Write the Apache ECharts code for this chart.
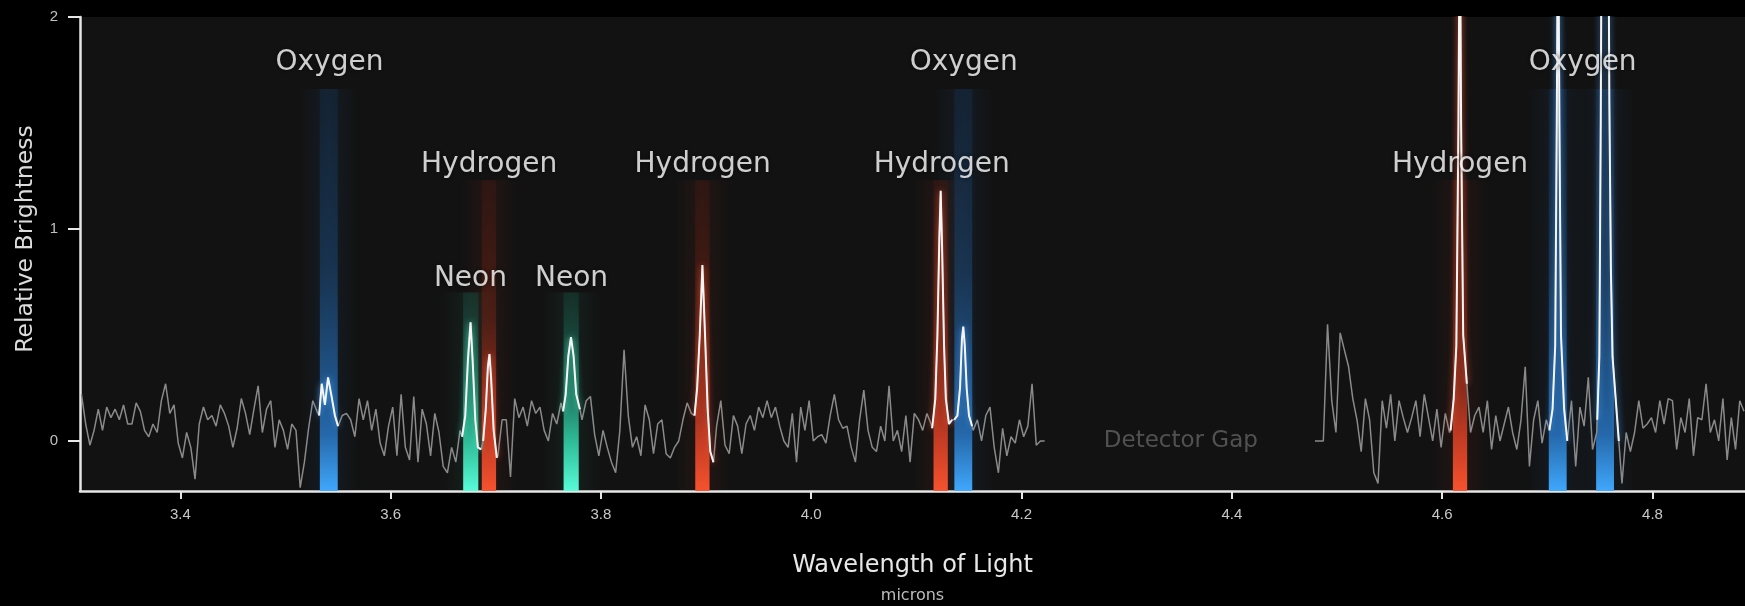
<!DOCTYPE html>
<html>
<head>
<meta charset="utf-8">
<style>
html,body{margin:0;padding:0;background:#000;}
#chart{width:1745px;height:606px;}
</style>
<script src="https://cdn.jsdelivr.net/npm/echarts@6/dist/echarts.min.js"></script>
</head>
<body>
<div id="chart"></div>
<script>
// ---------------- DATA ----------------
const xTicks = [3.4, 3.6, 3.8, 4.0, 4.2, 4.4, 4.6, 4.8];
const yTicks = [0, 1, 2];
const xMin = 3.3046, xMax = 4.888;
const yMin = -0.236, yMax = 2;

// noise spectrum, sampled every 0.004 micron
const sampleStep = 0.004;
const seg1Start = 3.306;
const seg1Values = [
 0.22,0.08,-0.02,0.05,0.15,0.05,0.16,0.11,0.15,0.10,
 0.17,0.08,0.08,0.18,0.14,0.05,0.02,0.08,0.04,0.19,
 0.27,0.13,0.17,-0.01,-0.08,0.04,-0.03,-0.18,0.08,0.16,
 0.10,0.12,0.07,0.17,0.13,0.07,-0.03,0.06,0.20,0.13,
 0.03,0.15,0.26,0.04,0.15,0.19,-0.03,0.10,0.05,-0.04,
 0.08,0.05,-0.22,-0.10,0.06,0.19,0.14,0.27,0.21,0.29,
 0.15,0.06,0.12,0.13,0.10,0.02,0.20,0.10,0.19,0.05,
 0.15,-0.01,-0.07,0.07,0.16,-0.07,0.22,-0.03,-0.09,0.21,
 -0.10,0.15,0.08,-0.07,0.13,0.04,-0.12,-0.15,-0.03,-0.10,
 0.05,0.20,0.50,0.45,0.00,-0.05,0.20,0.40,0.05,-0.07,
 0.10,0.10,-0.17,0.20,0.11,0.16,0.07,0.19,0.13,0.16,
 0.05,0.00,0.13,0.08,0.18,0.25,0.45,0.45,0.20,0.10,
 0.19,0.21,0.03,-0.07,0.05,-0.03,-0.10,-0.15,0.05,0.43,
 0.12,-0.03,0.02,-0.07,0.17,0.10,-0.06,0.08,0.10,-0.06,
 -0.08,-0.03,0.00,0.10,0.18,0.13,0.10,0.60,0.75,0.20,
 -0.05,0.07,0.19,-0.02,-0.06,0.12,0.07,-0.06,0.08,0.12,
 0.05,0.16,0.11,0.19,0.11,0.16,0.07,0.00,-0.03,0.13,
 -0.10,0.16,0.05,0.19,0.00,0.02,0.03,-0.01,0.12,0.22,
 0.10,0.06,0.07,-0.03,-0.10,0.10,0.24,0.05,-0.03,-0.05,
 0.07,0.00,0.26,0.00,0.05,-0.05,0.12,-0.10,0.13,0.10,
 0.05,0.13,0.08,0.30,1.00,0.50,0.10,0.10,0.10,0.35,
 0.50,0.12,0.05,0.10,0.00,0.12,0.16,-0.03,-0.15,0.06,
 -0.07,0.02,-0.01,0.10,0.02,0.07,0.27,-0.02,0.00,0.00
];
const seg2Start = 4.479;
const seg2Values = [
 0.00,0.00,0.00,0.55,0.19,0.04,0.51,0.43,0.35,0.20,
 0.10,-0.05,0.20,0.10,-0.15,-0.20,0.19,0.06,0.22,0.00,
 0.19,0.11,0.04,0.11,0.19,0.02,0.22,0.11,0.00,0.15,
 -0.03,0.13,0.04,0.20,1.60,1.60,0.27,0.04,0.12,0.16,
 0.04,0.19,-0.04,0.12,0.00,0.08,0.16,0.04,-0.04,0.10,
 0.35,-0.12,0.10,0.19,-0.01,0.10,0.10,0.60,2.60,0.40,
 0.00,0.19,-0.12,0.16,0.07,0.30,-0.04,0.04,0.90,2.20,
 1.60,0.40,0.05,-0.20,0.04,-0.05,0.04,0.19,0.06,0.08,
 0.11,0.04,0.19,0.08,0.20,0.19,-0.04,0.11,0.04,0.20,
 -0.07,0.11,0.10,0.27,0.04,0.10,0.00,0.20,-0.09,0.11,
 -0.04,0.19,0.14
];

// emission lines (centre wavelength, element)
const lineWl      = [3.5412, 3.6762, 3.6935, 3.7717, 3.8965, 4.1231, 4.1446, 4.6170, 4.7099, 4.7549];
const lineElement = ['Oxygen','Neon','Hydrogen','Neon','Hydrogen','Hydrogen','Oxygen','Hydrogen','Oxygen','Oxygen'];

// emission peaks of the spectrum
const peakO1Wl  = [3.532, 3.5345, 3.5375, 3.5405, 3.5435, 3.547, 3.550];
const peakO1Val = [0.12, 0.27, 0.17, 0.30, 0.22, 0.12, 0.07];
const peakNe1Wl  = [3.668, 3.671, 3.6735, 3.676, 3.678, 3.6805, 3.683, 3.686];
const peakNe1Val = [0.02, 0.12, 0.38, 0.56, 0.38, 0.10, -0.03, -0.04];
const peakH1Wl  = [3.688, 3.6905, 3.6925, 3.694, 3.6955, 3.698, 3.701];
const peakH1Val = [0.00, 0.15, 0.35, 0.41, 0.30, 0.05, -0.08];
const peakNe2Wl  = [3.764, 3.7665, 3.769, 3.7715, 3.774, 3.7765, 3.780];
const peakNe2Val = [0.14, 0.22, 0.40, 0.49, 0.40, 0.22, 0.15];
const peakH2Wl  = [3.889, 3.8915, 3.894, 3.8965, 3.899, 3.9015, 3.904, 3.907];
const peakH2Val = [0.12, 0.25, 0.50, 0.83, 0.50, 0.15, -0.05, -0.10];
const peakH3Wl  = [4.115, 4.118, 4.120, 4.1218, 4.1231, 4.1245, 4.1263, 4.128, 4.131, 4.134];
const peakH3Val = [0.06, 0.20, 0.50, 0.95, 1.18, 0.90, 0.45, 0.20, 0.08, 0.10];
const peakO2Wl  = [4.136, 4.139, 4.1415, 4.1433, 4.1446, 4.146, 4.1478, 4.150, 4.153];
const peakO2Val = [0.10, 0.12, 0.25, 0.48, 0.54, 0.45, 0.25, 0.12, 0.07];
const peakH4Wl  = [4.608, 4.611, 4.6135, 4.6155, 4.6168, 4.618, 4.620, 4.6235];
const peakH4Val = [0.05, 0.20, 0.45, 1.50, 2.60, 1.50, 0.50, 0.27];
const peakO3Wl  = [4.702, 4.705, 4.7075, 4.709, 4.7102, 4.7115, 4.713, 4.716, 4.719];
const peakO3Val = [0.05, 0.15, 0.45, 1.50, 2.60, 1.50, 0.50, 0.15, 0.00];
const peakO4Wl  = [4.7475, 4.7495, 4.7508, 4.7518, 4.7549, 4.758, 4.759, 4.7605, 4.762, 4.765, 4.768];
const peakO4Val = [0.10, 0.40, 1.50, 2.60, 2.25, 2.60, 1.60, 0.80, 0.40, 0.20, 0.00];

// labels
const labelText = ['Oxygen','Hydrogen','Neon','Neon','Hydrogen','Hydrogen','Oxygen','Hydrogen','Oxygen'];
const labelWl   = [3.5418, 3.6937, 3.6759, 3.7720, 3.8967, 4.1241, 4.1450, 4.6170, 4.7336];
const labelVal  = [1.783, 1.302, 0.764, 0.764, 1.302, 1.302, 1.783, 1.302, 1.783];
const noteText = ['Detector Gap'];
const noteWl   = [4.3515];
const noteVal  = [0];

// ---------------- STYLE ----------------
const elementStyle = {
  Oxygen:   { top: 1.66, half: 0.0085, glow: 'rgba(70,160,245,0.9)', halo: [40,100,170],
              stops: [[0,'rgba(20,48,78,0.35)'],[0.45,'rgba(26,64,104,0.65)'],[0.86,'rgba(38,108,178,0.95)'],[1,'rgba(64,168,252,1)']] },
  Hydrogen: { top: 1.23, half: 0.0068, glow: 'rgba(245,85,50,0.9)', halo: [150,50,30],
              stops: [[0,'rgba(70,24,16,0.35)'],[0.45,'rgba(100,32,20,0.65)'],[0.82,'rgba(200,60,36,0.95)'],[1,'rgba(246,82,46,1)']] },
  Neon:     { top: 0.70, half: 0.0072, glow: 'rgba(80,240,200,0.9)', halo: [40,140,110],
              stops: [[0,'rgba(22,70,58,0.4)'],[0.45,'rgba(32,120,98,0.8)'],[0.75,'rgba(48,196,158,0.95)'],[1,'rgba(88,252,216,1)']] }
};

const peaks = [
  {wl: peakO1Wl, val: peakO1Val, el: 'Oxygen'},
  {wl: peakNe1Wl, val: peakNe1Val, el: 'Neon'},
  {wl: peakH1Wl, val: peakH1Val, el: 'Hydrogen'},
  {wl: peakNe2Wl, val: peakNe2Val, el: 'Neon'},
  {wl: peakH2Wl, val: peakH2Val, el: 'Hydrogen'},
  {wl: peakH3Wl, val: peakH3Val, el: 'Hydrogen'},
  {wl: peakO2Wl, val: peakO2Val, el: 'Oxygen'},
  {wl: peakH4Wl, val: peakH4Val, el: 'Hydrogen'},
  {wl: peakO3Wl, val: peakO3Val, el: 'Oxygen'},
  {wl: peakO4Wl, val: peakO4Val, el: 'Oxygen'}
];

function buildSegment(start, values) {
  const pts = values.map((v, i) => [+(start + i * sampleStep).toFixed(4), v]);
  const lo = pts[0][0], hi = pts[pts.length - 1][0];
  const inPeak = x => peaks.some(p => x >= p.wl[0] - 1e-6 && x <= p.wl[p.wl.length - 1] + 1e-6);
  const out = pts.filter(p => !inPeak(p[0]));
  peaks.forEach(p => {
    if (p.wl[0] >= lo && p.wl[p.wl.length - 1] <= hi) {
      p.wl.forEach((w, k) => out.push([w, p.val[k]]));
    }
  });
  out.sort((a, b) => a[0] - b[0]);
  return out;
}

function grad(stops) {
  return { type: 'linear', x: 0, y: 0, x2: 0, y2: 1,
    colorStops: stops.map(s => ({ offset: s[0], color: s[1] })) };
}
function hgrad(c, a) {
  return { type: 'linear', x: 0, y: 0, x2: 1, y2: 0, colorStops: [
    { offset: 0, color: `rgba(${c[0]},${c[1]},${c[2]},0)` },
    { offset: 0.5, color: `rgba(${c[0]},${c[1]},${c[2]},${a})` },
    { offset: 1, color: `rgba(${c[0]},${c[1]},${c[2]},0)` } ] };
}

const haloAreas = lineWl.map((w, i) => {
  const st = elementStyle[lineElement[i]];
  return [
    { xAxis: w - 0.028, yAxis: yMin, itemStyle: { color: hgrad(st.halo, 0.13) } },
    { xAxis: w + 0.028, yAxis: st.top }
  ];
});
const coreAreas = lineWl.map((w, i) => {
  const st = elementStyle[lineElement[i]];
  return [
    { xAxis: w - st.half, yAxis: yMin, itemStyle: { color: grad(st.stops) } },
    { xAxis: w + st.half, yAxis: st.top }
  ];
});

const FONT = 'DejaVu Sans';
const series = [];
series.push({
  name: 'bands', type: 'line', data: [], z: 1, silent: true,
  markArea: { silent: true, label: { show: false }, data: haloAreas.concat(coreAreas) }
});
[seg1Start, seg2Start].forEach((s, k) => {
  series.push({
    name: 'spectrum' + k, type: 'line', z: 3, silent: true,
    data: buildSegment(s, k === 0 ? seg1Values : seg2Values),
    showSymbol: false, symbol: 'none',
    lineStyle: { color: '#8a8a8a', width: 1.5 }
  });
});
peaks.forEach((p, k) => {
  series.push({
    name: 'peak' + k, type: 'line', z: 4, silent: true,
    data: p.wl.map((w, i) => [w, p.val[i]]),
    showSymbol: false, symbol: 'none',
    lineStyle: { color: '#f4f4f4', width: 2, shadowColor: elementStyle[p.el].glow, shadowBlur: 6 }
  });
});
series.push({
  name: 'labels', type: 'scatter', z: 6, silent: true,
  symbolSize: 1, itemStyle: { color: 'rgba(0,0,0,0)' },
  data: labelWl.map((w, i) => ({ value: [w, labelVal[i]], name: labelText[i] })),
  label: { show: true, position: 'inside', formatter: '{b}', color: '#ffffff',
           fontSize: 28, fontFamily: FONT, textShadowColor: 'rgba(0,0,0,0.8)', textShadowBlur: 5 }
});
series.push({
  name: 'note', type: 'scatter', z: 6, silent: true,
  symbolSize: 1, itemStyle: { color: 'rgba(0,0,0,0)' },
  data: noteWl.map((w, i) => ({ value: [w, noteVal[i]], name: noteText[i] })),
  label: { show: true, position: 'inside', formatter: '{b}', color: '#626262',
           fontSize: 23, fontFamily: FONT }
});

const chart = echarts.init(document.getElementById('chart'), null, { renderer: 'canvas' });
chart.setOption({
  backgroundColor: '#000',
  animation: false,
  grid: { left: 80, right: 0, top: 17, bottom: 115, show: true, backgroundColor: '#121212', borderWidth: 0,
          containLabel: false, outerBoundsMode: 'none' },
  xAxis: {
    type: 'value', min: xMin, max: xMax,
    axisLine: { show: true, onZero: false, lineStyle: { color: '#e6e6e6', width: 2.5 } },
    axisTick: { show: true, length: 8, customValues: xTicks, lineStyle: { color: '#e6e6e6', width: 2 } },
    axisLabel: { show: true, customValues: xTicks, formatter: v => Number(v).toFixed(1),
                 color: '#c8c8c8', fontSize: 15, fontFamily: 'Liberation Sans', margin: 16 },
    splitLine: { show: false },
    name: '{a|Wavelength of Light}\n{b|microns}',
    nameLocation: 'middle', nameGap: 60,
    nameTextStyle: { align: 'center', rich: {
      a: { fontSize: 24, color: '#e8e8e8', fontFamily: FONT, lineHeight: 30, align: 'center' },
      b: { fontSize: 16, color: '#bdbdbd', fontFamily: FONT, lineHeight: 30, align: 'center' } } }
  },
  yAxis: {
    type: 'value', min: yMin, max: yMax,
    axisLine: { show: true, onZero: false, lineStyle: { color: '#e6e6e6', width: 2.5 } },
    axisTick: { show: true, length: 12, customValues: yTicks, lineStyle: { color: '#e6e6e6', width: 2 } },
    axisLabel: { show: true, customValues: yTicks, color: '#c0c0c0', fontSize: 15,
                 fontFamily: 'Liberation Sans', margin: 22 },
    splitLine: { show: false },
    name: 'Relative Brightness', nameLocation: 'middle', nameGap: 42,
    nameTextStyle: { color: '#dcdcdc', fontSize: 23.5, fontFamily: FONT, padding: [0, 0, 0, 30] }
  },
  series: series
});
</script>
</body>
</html>
